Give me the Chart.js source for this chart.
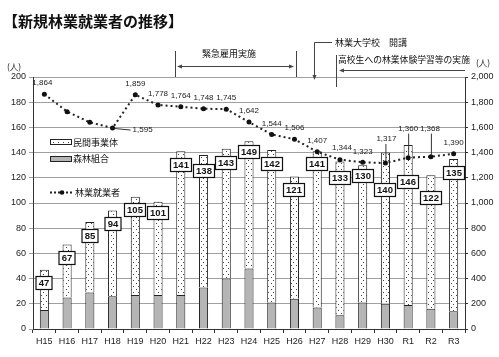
<!DOCTYPE html>
<html><head><meta charset="utf-8">
<script src="https://cdn.jsdelivr.net/npm/chart.js@4/dist/chart.umd.min.js"></script>
<style>html,body{margin:0;padding:0;background:#fff;}#c{display:block;}</style>
</head><body>
<canvas id="c" width="499" height="357"></canvas>
<script>
// ---- data ----
const categories = ['H15','H16','H17','H18','H19','H20','H21','H22','H23','H24','H25','H26','H27','H28','H29','H30','R1','R2','R3'];
const forestUnion = [15,25,29,26,27,27,27,33,40,48,21,24,17,11,21,20,19,16,14];           // 森林組合
const privateCompanies = [32,42,56,68,78,74,114,105,103,101,121,97,124,122,109,120,127,106,121]; // 民間事業体
const totalLabels = [47,67,85,94,105,101,141,138,143,149,142,121,141,133,130,140,146,122,135];
const newWorkers = [1864,1725,1640,1595,1859,1778,1764,1748,1745,1642,1544,1506,1407,1344,1323,1317,1360,1368,1390]; // 林業就業者
const newWorkerLabels = ['1,864',null,null,'1,595','1,859','1,778','1,764','1,748','1,745','1,642','1,544','1,506','1,407','1,344','1,323','1,317','1,360','1,368','1,390'];

// ---- style / layout settings ----
const boxOffset = [6,6,7,6,6,4,7,9,7,4,7,6,6,10,4,30,30,16,7];
const labelPos = {0:[-2,-11],3:[20,2,'left','h'],13:[2,-12],15:[1,-24,'center','v'],16:[0,-29,'center','v'],17:[-1,-28,'center','v']};
const JP = '"Noto Sans CJK JP", sans-serif';
const LAT = '"Liberation Sans", Arial, sans-serif';

const ctx0 = document.getElementById('c').getContext('2d');
function dotPattern(){
  const p=document.createElement('canvas'); p.width=5; p.height=6;
  const g=p.getContext('2d'); g.fillStyle='#fff'; g.fillRect(0,0,5,6);
  g.fillStyle='#444'; g.fillRect(1,1,1,1); g.fillRect(3,4,1,1);
  return ctx0.createPattern(p,'repeat');
}
const dots = dotPattern();

function arrowHead(ctx,x,y,dir){
  ctx.beginPath();
  if(dir==='left'){ctx.moveTo(x,y);ctx.lineTo(x+5,y-2);ctx.lineTo(x+5,y+2);}
  else if(dir==='right'){ctx.moveTo(x,y);ctx.lineTo(x-5,y-2);ctx.lineTo(x-5,y+2);}
  else {ctx.moveTo(x,y);ctx.lineTo(x-2,y-5);ctx.lineTo(x+2,y-5);}
  ctx.closePath(); ctx.fill();
}
function line(ctx,x1,y1,x2,y2){ctx.beginPath();ctx.moveTo(x1,y1);ctx.lineTo(x2,y2);ctx.stroke();}

const annotate = {
  id:'annotate',
  afterDatasetDraw(chart,args){
    if(args.index!==1) return;
    const ctx=chart.ctx, x=chart.scales.x, y=chart.scales.y;
    ctx.save();
    ctx.font='bold 9.5px '+LAT; ctx.textAlign='center'; ctx.textBaseline='middle';
    totalLabels.forEach((v,i)=>{
      const cx=Math.round(x.getPixelForValue(i));
      const top=Math.round(y.getPixelForValue(forestUnion[i]+privateCompanies[i])+boxOffset[i])+0.5;
      const t=String(v), w=Math.round(ctx.measureText(t).width+5), h=13;
      ctx.fillStyle='#fff'; ctx.fillRect(cx-w/2,top,w,h);
      ctx.strokeStyle='#111'; ctx.lineWidth=1.2; ctx.strokeRect(cx-w/2,top,w,h);
      ctx.fillStyle='#111'; ctx.fillText(t,cx,top+h/2+0.5);
    });
    ctx.restore();
  },
  afterDraw(chart){
    const ctx=chart.ctx, x=chart.scales.x, y2=chart.scales.y2;
    ctx.save();
    // title
    ctx.fillStyle='#111'; ctx.textBaseline='middle'; ctx.textAlign='left';
    ctx.font='bold 15px '+JP; ctx.fillText('【新規林業就業者の推移】',3,21);
    // unit labels
    ctx.font='8.5px '+JP; ctx.fillStyle='#222';
    ctx.fillText('(人)',7,67);
    ctx.fillText('(人)',476,63);
    // line value labels
    ctx.font='8px '+LAT; ctx.strokeStyle='#333'; ctx.lineWidth=1;
    newWorkerLabels.forEach((t,i)=>{
      if(!t) return;
      const px=x.getPixelForValue(i), py=y2.getPixelForValue(newWorkers[i]);
      const o=labelPos[i]||[0,-11];
      ctx.textAlign=o[2]||'center';
      ctx.fillStyle='#222';
      ctx.fillText(t,px+o[0],py+o[1]);
      if(o[3]==='h') line(ctx,px+2,py+0.5,px+o[0]-2,py+o[1]);
      if(o[3]==='v') line(ctx,px+0.5,py+o[1]+5,px+0.5,py-2);
    });
    // legend
    ctx.textAlign='left'; ctx.font='9px '+JP; ctx.fillStyle='#111';
    ctx.fillStyle=dots; ctx.fillRect(50,139.5,21,5);
    ctx.strokeStyle='#222'; ctx.lineWidth=1; ctx.strokeRect(50.5,139.5,21,5);
    ctx.fillStyle='#b5b5b5'; ctx.fillRect(50,156.5,21,5); ctx.strokeRect(50.5,156.5,21,5);
    ctx.setLineDash([2,2]); ctx.lineWidth=2; line(ctx,50,192.5,73,192.5); ctx.setLineDash([]);
    ctx.fillStyle='#111'; ctx.beginPath(); ctx.arc(62,192.5,2.3,0,Math.PI*2); ctx.fill();
    ctx.fillText('民間事業体',73,142.5);
    ctx.fillText('森林組合',73,159);
    ctx.fillText('林業就業者',75,193);
    // annotations
    ctx.strokeStyle='#444'; ctx.fillStyle='#444'; ctx.lineWidth=1;
    line(ctx,175.5,51,175.5,77); line(ctx,296.5,51,296.5,77);
    line(ctx,178,66.5,293,66.5); arrowHead(ctx,177,66.5,'left'); arrowHead(ctx,294,66.5,'right');
    line(ctx,314.5,42.5,332,42.5); line(ctx,314.5,42.5,314.5,76); arrowHead(ctx,314.5,80,'down');
    line(ctx,336.5,55,336.5,87);
    line(ctx,342,70.5,465,70.5); arrowHead(ctx,339,70.5,'left');
    ctx.fillStyle='#111'; ctx.font='9px '+JP;
    ctx.textAlign='center'; ctx.fillText('緊急雇用実施',229,53.5);
    ctx.textAlign='left'; ctx.fillText('林業大学校　開講',335,43);
    ctx.font='8.8px '+JP; ctx.fillText('高校生への林業体験学習等の実施',338,59.5);
    ctx.restore();
  }
};

new Chart(ctx0,{
  type:'bar',
  data:{
    labels:categories,
    datasets:[
      {label:'森林組合',data:forestUnion,backgroundColor:'#b5b5b5',borderColor:'#222',borderWidth:1,yAxisID:'y',stack:'s',order:1,barPercentage:0.4,categoryPercentage:1},
      {label:'民間事業体',data:privateCompanies,backgroundColor:dots,borderColor:'#222',borderWidth:1,yAxisID:'y',stack:'s',order:1,barPercentage:0.4,categoryPercentage:1},
      {type:'line',label:'林業就業者',data:newWorkers,yAxisID:'y2',order:0,borderColor:'#222',borderWidth:2,borderDash:[2,3],pointRadius:2.5,pointBackgroundColor:'#111',pointBorderWidth:0,fill:false,tension:0}
    ]
  },
  options:{
    responsive:false, animation:false, devicePixelRatio:1,
    layout:{padding:{top:77,left:0,right:0,bottom:0}},
    plugins:{legend:{display:false},tooltip:{enabled:false}},
    scales:{
      x:{stacked:true,offset:true,
        grid:{offset:true,drawOnChartArea:false,tickLength:4,color:'#333'},
        border:{color:'#333'},
        ticks:{font:{size:9,family:LAT},color:'#222',padding:3,maxRotation:0,autoSkip:false},
        afterFit(s){s.height=28;}},
      y:{stacked:true,min:0,max:200,position:'left',
        ticks:{stepSize:20,font:{size:9,family:LAT},color:'#222',padding:3},
        grid:{color:'#a0a0a0',tickLength:4},
        border:{color:'#333'},
        afterFit(s){s.width=33;}},
      y2:{position:'right',min:0,max:2000,
        ticks:{stepSize:200,font:{size:9,family:LAT},color:'#222',padding:3,callback:v=>v.toLocaleString('en-US')},
        grid:{drawOnChartArea:false,tickLength:3,color:'#333'},
        border:{color:'#333'},
        afterFit(s){s.width=34;}}
    }
  },
  plugins:[annotate]
});
</script>
</body></html>
